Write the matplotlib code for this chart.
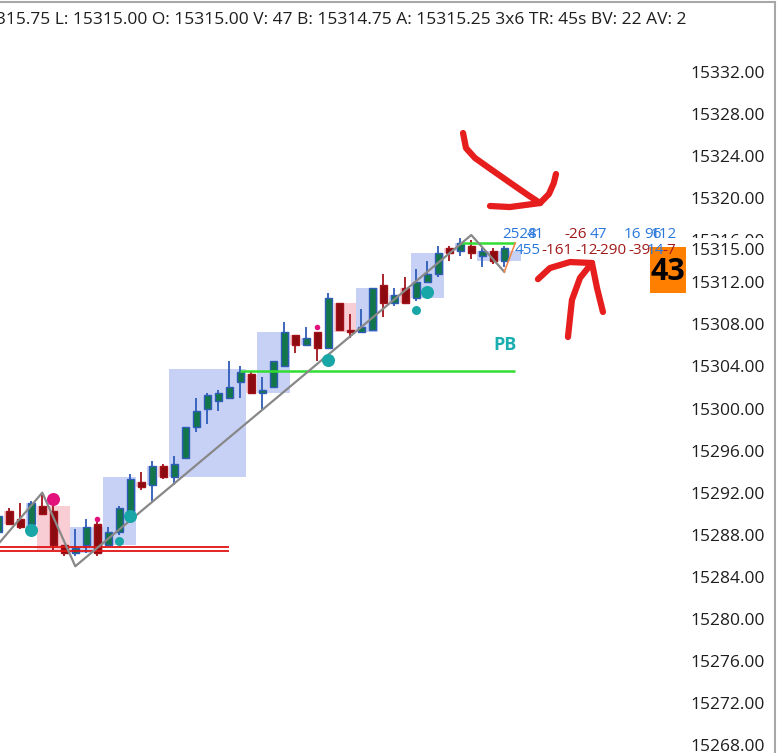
import numpy as np
import matplotlib.pyplot as plt
from matplotlib.patches import Rectangle
from matplotlib.lines import Line2D

plt.rcParams['font.family'] = ['Open Sans', 'DejaVu Sans']

# --- bar data (index, OHLC) ---
bar_idx = list(range(-1, 46))
opens = [15288.25, 15290.25, 15289.5, 15289.0, 15290.75, 15290.25, 15287.0, 15286.25, 15287.0, 15289.0,
         15287.0, 15288.25, 15290.25, 15293.0, 15292.75, 15294.5, 15293.5, 15295.25, 15298.25, 15300.0,
         15300.75, 15301.0, 15302.5, 15303.25, 15301.5, 15302.0, 15304.0, 15307.0, 15306.0, 15307.25,
         15305.75, 15310.0, 15307.5, 15307.25, 15307.5, 15311.75, 15310.0, 15311.5, 15310.5, 15312.0,
         15312.75, 15315.25, 15315.0, 15315.5, 15314.5, 15315.0, 15314.0]
highs = [15290.25, 15290.5, 15291.0, 15291.25, 15292.0, 15290.75, 15287.0, 15288.5, 15289.5, 15289.25,
         15288.75, 15290.75, 15293.75, 15294.0, 15295.0, 15294.75, 15295.5, 15298.25, 15301.0, 15301.5,
         15301.75, 15304.5, 15304.0, 15303.5, 15303.0, 15304.5, 15308.25, 15307.0, 15307.75, 15307.25,
         15311.0, 15310.0, 15309.0, 15309.5, 15311.5, 15312.75, 15311.5, 15312.5, 15313.25, 15314.0,
         15315.5, 15315.5, 15316.25, 15316.0, 15315.25, 15315.25, 15315.5]
lows = [15287.75, 15289.0, 15288.5, 15288.75, 15290.0, 15286.5, 15286.0, 15286.0, 15286.25, 15286.0,
        15287.0, 15288.0, 15290.0, 15292.25, 15291.25, 15293.25, 15292.75, 15295.25, 15297.75, 15298.5,
        15299.75, 15301.0, 15301.0, 15301.5, 15300.0, 15302.0, 15304.0, 15305.25, 15306.0, 15304.5,
        15305.75, 15307.5, 15306.75, 15307.25, 15307.5, 15308.75, 15309.75, 15310.0, 15310.25, 15312.0,
        15312.5, 15314.0, 15314.5, 15314.25, 15313.5, 15313.75, 15313.5]
closes = [15289.75, 15289.0, 15288.75, 15291.0, 15290.0, 15287.0, 15286.25, 15286.75, 15288.75, 15286.25,
          15288.25, 15290.5, 15293.25, 15292.5, 15294.5, 15293.5, 15294.75, 15298.25, 15299.75, 15301.25,
          15301.5, 15302.0, 15303.5, 15301.5, 15301.75, 15304.5, 15307.25, 15306.0, 15306.75, 15305.75,
          15310.5, 15307.5, 15307.25, 15307.75, 15311.5, 15310.0, 15310.75, 15310.0, 15312.0, 15312.75,
          15314.75, 15314.75, 15315.75, 15314.75, 15315.0, 15314.0, 15315.25]

# zone boxes: (start idx, end idx, low, high)
blue_zones = [(5.5, 8.5, 15286.25, 15288.75), (8.5, 11.5, 15287.0, 15293.5),
              (14.5, 21.5, 15293.5, 15303.75), (22.5, 25.5, 15301.5, 15307.25),
              (31.5, 33.5, 15307.25, 15311.5), (36.5, 39.5, 15310.5, 15314.75),
              (42.5, 46.5, 15314.0, 15315.0)]
pink_zones = [(2.5, 5.5, 15286.5, 15290.75), (29.5, 31.5, 15307.25, 15310.0)]
# single bar highlights
blue_marks = [(2, 15288.75, 15291.0), (13, 15292.75, 15294.5), (27, 15306.0, 15306.75),
              (35, 15310.0, 15310.75), (41, 15315.0, 15315.75)]
pink_marks = [(0, 15289.0, 15290.25), (12, 15292.5, 15293.0), (14, 15293.5, 15294.5),
              (22, 15301.5, 15303.25), (26, 15306.0, 15307.0), (36, 15310.0, 15311.5),
              (40, 15314.75, 15315.25)]

# swing line
swing_x = [-0.85, 3, 6, 42, 45]
swing_y = [15287.3, 15292.0, 15285.0, 15316.5, 15313.0]
leg_x = [45, 46]
leg_y = [15313.0, 15315.75]

red_levels = [15286.8, 15286.45]
red_level_span = (-0.85, 20)
green_levels = [(21, 46, 15303.6), (41, 46, 15315.75)]

teal_dots = [(2, 15288.45, 'L'), (10, 15287.4, 'S'), (11, 15289.75, 'L'),
             (29, 15304.6, 'L'), (37, 15309.4, 'S'), (38, 15311.1, 'L')]
pink_dots = [(4, 15291.4, 'L'), (8, 15289.5, 'XS'), (28, 15307.75, 'XS')]

# footprint numbers (slot index, text, colour key)
row1_price = 15316.55
row1 = [(44.79, '2528', 'b'), (47.06, '41', 'b'), (50.43, '-26', 'r'), (52.79, '47', 'b'),
        (55.88, '16', 'b'), (57.70, '96', 'b'), (58.34, '112', 'b')]
row2_price = 15314.98
row2 = [(45.97, '455', 'b'), (48.34, '-161', 'r'), (51.43, '-12', 'r'), (53.25, '-290', 'r'),
        (56.25, '-39', 'r'), (57.97, '14', 'b'), (59.34, '-7', 'r')]

last_price = 15315.00
counter_value = '43'
header = "H: 15315.75 L: 15315.00 O: 15315.00 V: 47 B: 15314.75 A: 15315.25 3x6 TR: 45s BV: 22 AV: 2"

# hand drawn arrows (idx, price)
arrow_strokes = [
    [(41.25, 15326.2), (41.52, 15324.77), (42.34, 15323.82), (43.88, 15322.68),
     (45.7, 15321.35), (47.15, 15320.3), (48.25, 15319.54)],
    [(43.7, 15319.26), (45.5, 15319.16), (48.25, 15319.54)],
    [(48.25, 15319.54), (49.06, 15320.4), (49.5, 15321.44), (49.7, 15322.3)],
    [(48.06, 15312.3), (49.15, 15313.36), (50.97, 15313.93), (52.97, 15313.84)],
    [(52.97, 15313.84), (53.43, 15311.46), (53.97, 15309.18)],
    [(52.97, 15313.84), (51.88, 15312.41), (51.15, 15310.32), (50.79, 15306.8)],
]

yticks = np.arange(15268, 15333, 4)

W, H = 778, 753
fig = plt.figure(figsize=(W / 100, H / 100), dpi=100)
ax = fig.add_axes([0, 0, 686 / W, 1])
ax.set_xlim(-0.845, 61.52)
ax.set_ylim(15267.24, 15338.85)

BLUE_Z = '#c7d1f6'
PINK_Z = '#f8ced4'
for x0, x1, lo, hi in blue_zones:
    ax.add_patch(Rectangle((x0, lo), x1 - x0, hi - lo, color=BLUE_Z, lw=0, zorder=1))
for x0, x1, lo, hi in pink_zones:
    ax.add_patch(Rectangle((x0, lo), x1 - x0, hi - lo, color=PINK_Z, lw=0, zorder=1))
for i, lo, hi in blue_marks:
    ax.add_patch(Rectangle((i - 0.45, lo), 0.9, hi - lo, color=BLUE_Z, lw=0, zorder=1))
for i, lo, hi in pink_marks:
    ax.add_patch(Rectangle((i - 0.45, lo), 0.9, hi - lo, color=PINK_Z, lw=0, zorder=1))

# candles
G_FILL, G_EDGE = '#13764a', '#2e5cb8'
R_FILL, R_EDGE = '#8b0b10', '#a3121a'
for i, o, h, l, c in zip(bar_idx, opens, highs, lows, closes):
    up = c >= o
    edge = G_EDGE if up else R_EDGE
    fill = G_FILL if up else R_FILL
    ax.vlines(i, l, h, color=edge, lw=1.3, zorder=3)
    lo, hi = min(o, c), max(o, c)
    ax.bar(i, max(hi - lo, 0.02), bottom=lo, width=0.62, color=fill, edgecolor=edge,
           linewidth=1.0, zorder=4)

# levels
for lv in red_levels:
    ax.hlines(lv, *red_level_span, color='#e01414', lw=1.3, zorder=5)
for x0, x1, lv in green_levels:
    ax.hlines(lv, x0, x1, color='#33dd33', lw=1.8, zorder=5)

ax.plot(swing_x, swing_y, color='#888888', lw=1.6, zorder=5)
ax.plot(leg_x, leg_y, color='#f0884a', lw=1.2, zorder=5)

size_map = {'L': 88, 'S': 42, 'XS': 16}
for i, p, s in teal_dots:
    ax.scatter(i, p, s=size_map[s], color='#19a6a6', lw=0, zorder=6)
for i, p, s in pink_dots:
    ax.scatter(i, p, s=size_map[s], color='#e3117c', lw=0, zorder=6)

# counter box
ax.add_patch(Rectangle((58.25, 15311.0), 4.0, 4.35, color='#ff7f00', lw=0, zorder=6))
ax.text(59.88, 15312.95, counter_value, fontsize=22, fontweight='bold', color='black',
        ha='center', va='center', zorder=8, clip_on=True)

TXT = {'b': '#2a78dc', 'r': '#a11a1a'}
for row, price in ((row1, row1_price), (row2, row2_price)):
    for x, s, k in row:
        ax.text(x, price, s, color=TXT[k], fontsize=11, ha='left', va='center',
                zorder=7, clip_on=True)

ax.text(45.06, 15306.04, 'PB', color='#1aaeb0', fontsize=13, fontweight='bold',
        ha='center', va='center', zorder=7)

for stroke in arrow_strokes:
    xs, ys = zip(*stroke)
    ax.plot(xs, ys, color='#e61e1e', lw=4.5, solid_capstyle='round',
            solid_joinstyle='round', zorder=9)

# axis styling
for sp in ax.spines.values():
    sp.set_visible(False)
ax.set_xticks([])
ax.yaxis.tick_right()
ax.set_yticks(yticks)
ax.set_yticklabels([f"{v:.2f}" for v in yticks])
ax.tick_params(axis='y', length=0, pad=3, labelsize=12.5, labelcolor='#1e1e1e')

# current price label with white background covering the neighbouring tick
fig.canvas.draw()
ypix = ax.transData.transform((0, last_price))[1]
fig.add_artist(Rectangle((687 / W, (ypix - 13) / H), 84 / W, 26 / H, transform=fig.transFigure,
                         color='white', lw=0, zorder=5))
fig.text(690 / W, ypix / H, f"{last_price:.2f}", fontsize=12.5, color='#1e1e1e',
         ha='left', va='center', zorder=6)

# header
fig.text(686 / W, 1 - 20 / H, header, fontsize=12.5, color='#1e1e1e', ha='right', va='center')

# frame
fig.add_artist(Line2D([0, 775 / W], [1 - 1.5 / H] * 2, transform=fig.transFigure, color='#a8a8a8', lw=1.5))
fig.add_artist(Line2D([775 / W] * 2, [0, 1 - 1.5 / H], transform=fig.transFigure, color='#a8a8a8', lw=1.5))

fig.savefig('out.png', dpi=100, facecolor='white')
